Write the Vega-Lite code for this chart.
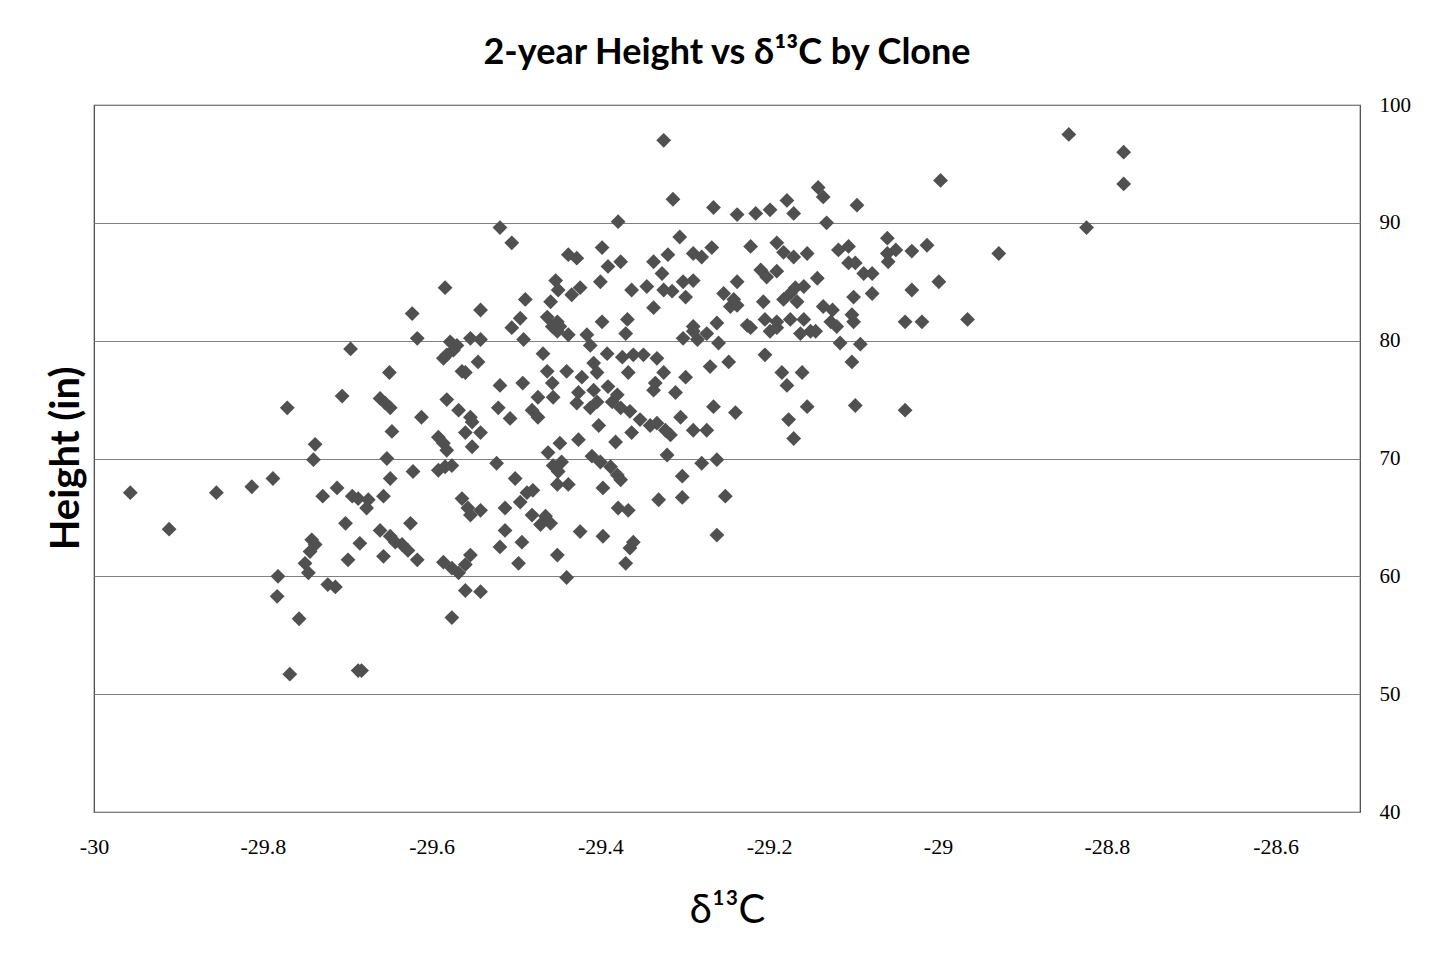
{
  "$schema": "https://vega.github.io/schema/vega-lite/v6.json",
  "autosize": {"type": "none"},
  "width": 1266,
  "height": 707,
  "padding": {"left": 94, "top": 105, "right": 82, "bottom": 149},
  "background": "white",
  "config": {"view": {"stroke": "#404040", "strokeWidth": 1.2}},
  "title": {"text": "2-year Height vs δ¹³C by Clone", "font": "Lato", "fontSize": 36, "fontWeight": "bold", "color": "#000000", "anchor": "middle", "offset": 22},
  "data": {"values": [
{"x":-29.957,"y":67.1},{"x":-29.855,"y":67.1},{"x":-29.813,"y":67.6},{"x":-29.788,"y":68.3},{"x":-29.771,"y":74.3},{"x":-29.738,"y":71.2},{"x":-29.740,"y":69.9},{"x":-29.729,"y":66.8},{"x":-29.911,"y":64.0},{"x":-29.782,"y":60.0},
{"x":-29.783,"y":58.3},{"x":-29.757,"y":56.4},{"x":-29.768,"y":51.7},{"x":-29.742,"y":63.1},{"x":-29.738,"y":62.7},{"x":-29.744,"y":62.1},{"x":-29.750,"y":61.1},{"x":-29.746,"y":60.3},{"x":-29.723,"y":59.3},{"x":-29.683,"y":52.0},
{"x":-29.687,"y":52.0},{"x":-29.584,"y":84.5},{"x":-29.623,"y":82.3},{"x":-29.617,"y":80.2},{"x":-29.696,"y":79.3},{"x":-29.542,"y":82.6},{"x":-29.578,"y":79.9},{"x":-29.570,"y":79.6},{"x":-29.574,"y":79.2},{"x":-29.586,"y":78.5},
{"x":-29.582,"y":78.8},{"x":-29.554,"y":80.2},{"x":-29.542,"y":80.1},{"x":-29.545,"y":78.2},{"x":-29.564,"y":77.4},{"x":-29.560,"y":77.3},{"x":-29.650,"y":77.3},{"x":-29.706,"y":75.3},{"x":-29.661,"y":75.1},{"x":-29.655,"y":74.7},
{"x":-29.649,"y":74.3},{"x":-29.612,"y":73.5},{"x":-29.582,"y":75.0},{"x":-29.568,"y":74.1},{"x":-29.554,"y":73.5},{"x":-29.552,"y":73.1},{"x":-29.560,"y":72.2},{"x":-29.542,"y":72.2},{"x":-29.647,"y":72.3},{"x":-29.592,"y":71.8},
{"x":-29.586,"y":71.3},{"x":-29.582,"y":70.7},{"x":-29.552,"y":71.0},{"x":-29.653,"y":70.0},{"x":-29.622,"y":68.9},{"x":-29.649,"y":68.3},{"x":-29.592,"y":69.0},{"x":-29.584,"y":69.3},{"x":-29.576,"y":69.4},{"x":-29.712,"y":67.5},
{"x":-29.694,"y":66.8},{"x":-29.687,"y":66.6},{"x":-29.675,"y":66.5},{"x":-29.677,"y":65.8},{"x":-29.657,"y":66.8},{"x":-29.564,"y":66.6},{"x":-29.557,"y":65.8},{"x":-29.554,"y":65.2},{"x":-29.542,"y":65.6},{"x":-29.702,"y":64.5},
{"x":-29.661,"y":63.9},{"x":-29.625,"y":64.5},{"x":-29.685,"y":62.8},{"x":-29.649,"y":63.4},{"x":-29.643,"y":62.9},{"x":-29.635,"y":62.7},{"x":-29.628,"y":62.2},{"x":-29.699,"y":61.4},{"x":-29.657,"y":61.7},{"x":-29.617,"y":61.4},
{"x":-29.586,"y":61.2},{"x":-29.576,"y":60.7},{"x":-29.568,"y":60.3},{"x":-29.560,"y":61.0},{"x":-29.554,"y":61.8},{"x":-29.714,"y":59.1},{"x":-29.560,"y":58.8},{"x":-29.542,"y":58.7},{"x":-29.576,"y":56.5},{"x":-29.519,"y":89.6},
{"x":-29.505,"y":88.3},{"x":-29.379,"y":90.1},{"x":-29.438,"y":87.3},{"x":-29.428,"y":87.0},{"x":-29.398,"y":87.9},{"x":-29.391,"y":86.3},{"x":-29.376,"y":86.7},{"x":-29.400,"y":85.0},{"x":-29.453,"y":85.1},{"x":-29.450,"y":84.3},
{"x":-29.434,"y":83.9},{"x":-29.424,"y":84.5},{"x":-29.363,"y":84.3},{"x":-29.489,"y":83.5},{"x":-29.459,"y":83.3},{"x":-29.495,"y":81.9},{"x":-29.505,"y":81.1},{"x":-29.463,"y":82.0},{"x":-29.451,"y":81.6},{"x":-29.457,"y":81.2},
{"x":-29.448,"y":81.2},{"x":-29.438,"y":80.5},{"x":-29.451,"y":80.8},{"x":-29.491,"y":80.1},{"x":-29.416,"y":80.5},{"x":-29.412,"y":79.6},{"x":-29.398,"y":81.6},{"x":-29.368,"y":81.8},{"x":-29.370,"y":80.6},{"x":-29.468,"y":78.9},
{"x":-29.392,"y":78.9},{"x":-29.374,"y":78.6},{"x":-29.367,"y":77.3},{"x":-29.463,"y":77.4},{"x":-29.440,"y":77.4},{"x":-29.422,"y":76.9},{"x":-29.408,"y":78.1},{"x":-29.404,"y":77.3},{"x":-29.519,"y":76.2},{"x":-29.492,"y":76.4},
{"x":-29.457,"y":76.4},{"x":-29.474,"y":75.2},{"x":-29.456,"y":75.2},{"x":-29.426,"y":75.6},{"x":-29.408,"y":75.8},{"x":-29.391,"y":76.1},{"x":-29.380,"y":75.4},{"x":-29.521,"y":74.3},{"x":-29.507,"y":73.4},{"x":-29.481,"y":74.1},
{"x":-29.474,"y":73.5},{"x":-29.428,"y":74.7},{"x":-29.412,"y":74.3},{"x":-29.404,"y":74.8},{"x":-29.386,"y":74.8},{"x":-29.376,"y":74.3},{"x":-29.365,"y":74.0},{"x":-29.402,"y":72.8},{"x":-29.363,"y":72.2},{"x":-29.448,"y":71.3},
{"x":-29.426,"y":71.6},{"x":-29.382,"y":71.4},{"x":-29.462,"y":70.5},{"x":-29.456,"y":69.4},{"x":-29.446,"y":69.7},{"x":-29.450,"y":68.9},{"x":-29.523,"y":69.6},{"x":-29.410,"y":70.2},{"x":-29.400,"y":69.7},{"x":-29.388,"y":69.3},
{"x":-29.380,"y":68.6},{"x":-29.376,"y":68.2},{"x":-29.501,"y":68.3},{"x":-29.397,"y":67.5},{"x":-29.451,"y":67.8},{"x":-29.438,"y":67.8},{"x":-29.487,"y":67.1},{"x":-29.480,"y":67.3},{"x":-29.495,"y":66.3},{"x":-29.513,"y":65.8},
{"x":-29.481,"y":65.2},{"x":-29.465,"y":65.1},{"x":-29.471,"y":64.4},{"x":-29.459,"y":64.5},{"x":-29.379,"y":65.8},{"x":-29.367,"y":65.6},{"x":-29.513,"y":63.9},{"x":-29.493,"y":62.9},{"x":-29.519,"y":62.5},{"x":-29.424,"y":63.8},
{"x":-29.397,"y":63.4},{"x":-29.451,"y":61.8},{"x":-29.497,"y":61.1},{"x":-29.370,"y":61.1},{"x":-29.440,"y":59.9},{"x":-29.365,"y":62.4},{"x":-29.325,"y":97.0},{"x":-29.314,"y":92.0},{"x":-29.266,"y":91.3},{"x":-29.238,"y":90.7},
{"x":-29.216,"y":90.8},{"x":-29.199,"y":91.1},{"x":-29.179,"y":91.9},{"x":-29.171,"y":90.8},{"x":-29.306,"y":88.8},{"x":-29.268,"y":87.9},{"x":-29.290,"y":87.4},{"x":-29.280,"y":87.1},{"x":-29.320,"y":87.3},{"x":-29.337,"y":86.7},
{"x":-29.327,"y":85.7},{"x":-29.325,"y":84.3},{"x":-29.315,"y":84.2},{"x":-29.302,"y":85.0},{"x":-29.290,"y":85.1},{"x":-29.299,"y":83.7},{"x":-29.345,"y":84.6},{"x":-29.337,"y":82.8},{"x":-29.222,"y":88.0},{"x":-29.191,"y":88.3},
{"x":-29.183,"y":87.5},{"x":-29.171,"y":87.1},{"x":-29.210,"y":86.0},{"x":-29.191,"y":85.9},{"x":-29.203,"y":85.4},{"x":-29.238,"y":85.0},{"x":-29.254,"y":84.0},{"x":-29.242,"y":83.5},{"x":-29.246,"y":82.9},{"x":-29.238,"y":83.0},
{"x":-29.207,"y":83.3},{"x":-29.183,"y":83.5},{"x":-29.175,"y":84.0},{"x":-29.226,"y":81.3},{"x":-29.205,"y":81.8},{"x":-29.191,"y":81.6},{"x":-29.175,"y":81.8},{"x":-29.290,"y":81.2},{"x":-29.262,"y":81.5},{"x":-29.302,"y":80.2},
{"x":-29.285,"y":80.1},{"x":-29.290,"y":80.8},{"x":-29.274,"y":80.6},{"x":-29.260,"y":79.8},{"x":-29.222,"y":81.1},{"x":-29.199,"y":80.8},{"x":-29.191,"y":81.1},{"x":-29.205,"y":78.8},{"x":-29.361,"y":78.8},{"x":-29.349,"y":78.8},
{"x":-29.333,"y":78.5},{"x":-29.325,"y":77.3},{"x":-29.335,"y":76.4},{"x":-29.337,"y":75.8},{"x":-29.299,"y":76.9},{"x":-29.270,"y":77.8},{"x":-29.248,"y":78.2},{"x":-29.185,"y":77.3},{"x":-29.179,"y":76.2},{"x":-29.311,"y":75.6},
{"x":-29.266,"y":74.4},{"x":-29.240,"y":73.9},{"x":-29.353,"y":73.3},{"x":-29.341,"y":72.8},{"x":-29.333,"y":73.0},{"x":-29.323,"y":72.4},{"x":-29.317,"y":72.0},{"x":-29.305,"y":73.5},{"x":-29.290,"y":72.4},{"x":-29.274,"y":72.4},
{"x":-29.177,"y":73.3},{"x":-29.171,"y":71.7},{"x":-29.321,"y":70.3},{"x":-29.280,"y":69.6},{"x":-29.262,"y":69.9},{"x":-29.303,"y":68.5},{"x":-29.331,"y":66.5},{"x":-29.303,"y":66.7},{"x":-29.252,"y":66.8},{"x":-29.262,"y":63.5},
{"x":-29.361,"y":62.9},{"x":-28.997,"y":93.6},{"x":-29.142,"y":93.0},{"x":-29.136,"y":92.2},{"x":-29.096,"y":91.5},{"x":-29.132,"y":90.0},{"x":-29.060,"y":88.7},{"x":-29.060,"y":87.4},{"x":-29.050,"y":87.7},{"x":-29.059,"y":86.7},
{"x":-29.031,"y":87.6},{"x":-29.013,"y":88.1},{"x":-28.928,"y":87.4},{"x":-29.155,"y":87.4},{"x":-29.118,"y":87.7},{"x":-29.106,"y":88.0},{"x":-29.106,"y":86.6},{"x":-29.098,"y":86.6},{"x":-29.088,"y":85.7},{"x":-29.078,"y":85.7},
{"x":-29.143,"y":85.3},{"x":-29.169,"y":84.5},{"x":-29.159,"y":84.6},{"x":-29.100,"y":83.7},{"x":-29.078,"y":84.0},{"x":-29.031,"y":84.3},{"x":-28.999,"y":85.0},{"x":-29.167,"y":83.3},{"x":-29.136,"y":82.9},{"x":-29.125,"y":82.6},
{"x":-29.102,"y":82.2},{"x":-29.100,"y":81.6},{"x":-29.127,"y":81.6},{"x":-29.120,"y":81.2},{"x":-29.039,"y":81.6},{"x":-29.019,"y":81.6},{"x":-28.965,"y":81.8},{"x":-29.159,"y":81.8},{"x":-29.151,"y":80.8},{"x":-29.163,"y":80.6},
{"x":-29.145,"y":80.8},{"x":-29.116,"y":79.8},{"x":-29.092,"y":79.7},{"x":-29.102,"y":78.2},{"x":-29.161,"y":77.3},{"x":-29.155,"y":74.4},{"x":-29.098,"y":74.5},{"x":-29.039,"y":74.1},{"x":-28.845,"y":97.5},{"x":-28.780,"y":96.0},
{"x":-28.780,"y":93.3},{"x":-28.824,"y":89.6}
  ]},
  "mark": {"type": "point", "shape": "diamond", "filled": true, "size": 220, "color": "#505050", "opacity": 1},
  "encoding": {
    "x": {
      "field": "x", "type": "quantitative",
      "scale": {"domain": [-30, -28.5], "nice": false, "zero": false},
      "axis": {
        "title": "δ¹³C", "titleFont": "Lato", "titleFontSize": 40, "titleFontWeight": "normal", "titleColor": "#000000",
        "titleY": 98, "titleBaseline": "middle",
        "values": [-30, -29.8, -29.6, -29.4, -29.2, -29, -28.8, -28.6],
        "labelExpr": "toString(datum.value)",
        "labelFont": "Liberation Serif", "labelFontSize": 22, "labelColor": "#000000", "labelPadding": 24, "labelFlush": false,
        "domain": false, "ticks": false, "grid": false
      }
    },
    "y": {
      "field": "y", "type": "quantitative",
      "scale": {"domain": [40, 100], "nice": false, "zero": false},
      "axis": {
        "orient": "right",
        "title": "Height (in)", "titleFont": "Lato", "titleFontSize": 40, "titleFontWeight": "bold", "titleColor": "#000000",
        "titleX": -1294, "titleY": 353, "titleAngle": 270, "titleAlign": "center", "titleBaseline": "middle",
        "values": [40, 50, 60, 70, 80, 90, 100],
        "labelFont": "Liberation Serif", "labelFontSize": 21, "labelColor": "#000000", "labelPadding": 19, "labelAlign": "left", "labelFlush": false,
        "domain": false, "ticks": false,
        "grid": true, "gridColor": "#808080", "gridWidth": 1, "gridOpacity": 1
      }
    }
  }
}
